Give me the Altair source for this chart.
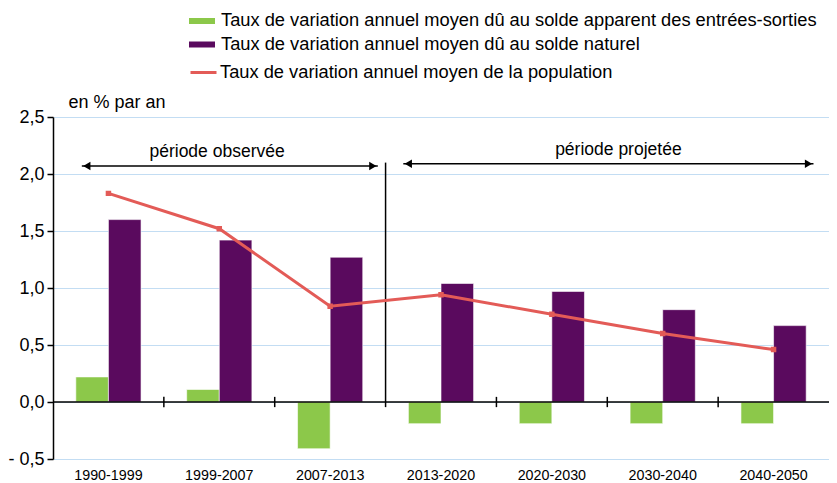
import altair as alt
import pandas as pd

# ---- data ----
periods = ["1990-1999", "1999-2007", "2007-2013", "2013-2020", "2020-2030", "2030-2040", "2040-2050"]
migration = [0.22, 0.11, -0.41, -0.19, -0.19, -0.19, -0.19]
natural = [1.60, 1.42, 1.27, 1.04, 0.97, 0.81, 0.67]
population = [1.83, 1.52, 0.84, 0.94, 0.77, 0.60, 0.46]

bar_series = [
    "Taux de variation annuel moyen dû au solde apparent des entrées-sorties",
    "Taux de variation annuel moyen dû au solde naturel",
]
line_series = "Taux de variation annuel moyen de la population"

y_ticks = [-0.5, 0.0, 0.5, 1.0, 1.5, 2.0, 2.5]

# annotations (in category units: 0..7)
arrow_start = [0.26, 3.16]
arrow_end = [2.93, 6.86]
arrow_y = [2.07, 2.09]
period_text = ["période observée", "période projetée"]
period_text_x = [1.48, 5.10]
period_text_y = [2.15, 2.17]
divider_x = [3]
divider_top = [2.1]
tick_x = [1, 2, 4, 5, 6]

# ---- styles ----
bar_colors = ["#8CC84A", "#5A0A5E"]
line_color = "#E35B57"
grid_color = "#C3DDF3"
FONT = "Liberation Sans"
W, H = 776, 342

bars_df = pd.DataFrame({
    "periode": periods * 2,
    "serie": [bar_series[0]] * len(periods) + [bar_series[1]] * len(periods),
    "valeur": migration + natural,
})
line_df = pd.DataFrame({"periode": periods, "serie": line_series, "valeur": population})
arrows_df = pd.DataFrame({"x1": arrow_start, "x2": arrow_end, "y": arrow_y})
heads_df = pd.DataFrame({
    "x": [arrow_start[0] + 0.045, arrow_end[0] - 0.045, arrow_start[1] + 0.045, arrow_end[1] - 0.045],
    "y": [arrow_y[0], arrow_y[0], arrow_y[1], arrow_y[1]],
    "dir": ["left", "right", "left", "right"],
})
text_df = pd.DataFrame({"x": period_text_x, "y": period_text_y, "t": period_text})
divider_df = pd.DataFrame({"x": divider_x, "y1": [-0.045], "y2": divider_top})
ticks_df = pd.DataFrame({"x": tick_x, "y1": [-0.045] * len(tick_x), "y2": [0.045] * len(tick_x)})
zero_df = pd.DataFrame({"x1": [0], "x2": [7], "y": [0.0]})

y_scale = alt.Scale(domain=[-0.5, 2.5], nice=False, zero=False)
y_axis = alt.Axis(
    values=y_ticks,
    labelExpr="(datum.value < 0 ? '- ' : '') + replace(format(abs(datum.value), '.1f'), '.', ',')",
    title="en % par an", titleAngle=0, titleAlign="left", titleBaseline="alphabetic",
    titleX=15, titleY=-10, titleFontSize=18, titleFontWeight="normal", titleColor="black", titleFont=FONT,
    labelFontSize=18, labelColor="black", labelFont=FONT, labelPadding=3,
    tickColor="black", tickSize=6, tickWidth=1.5,
    domainColor="black", domainWidth=1.5,
    grid=True, gridColor=grid_color, gridWidth=1,
)
x_band = alt.Scale(domain=periods, paddingInner=0, paddingOuter=0)
ux = alt.Scale(domain=[0, 7], nice=False, zero=False)

bars = alt.Chart(bars_df).mark_bar(stroke="#ffffff", strokeWidth=0.6).encode(
    x=alt.X("periode:N", scale=x_band, sort=periods,
            axis=alt.Axis(title=None, domain=False, ticks=False, labelAngle=0, labelFontSize=14.3,
                          labelColor="black", labelFont=FONT, labelPadding=9, grid=False)),
    xOffset=alt.XOffset("serie:N", scale=alt.Scale(domain=bar_series, paddingInner=0, paddingOuter=0.7)),
    y=alt.Y("valeur:Q", scale=y_scale, axis=y_axis),
    fill=alt.Fill("serie:N", scale=alt.Scale(domain=bar_series, range=bar_colors),
                  legend=alt.Legend(title=None, orient="none", legendX=139, legendY=-106,
                                    symbolType="M-1.3,-0.3H1.3V0.3H-1.3Z", symbolSize=400,
                                    symbolStrokeWidth=0, labelFontSize=18.3, labelFont=FONT,
                                    labelColor="black", labelLimit=900, rowPadding=4.5,
                                    labelOffset=9, padding=0, direction="vertical")),
)

zero = alt.Chart(zero_df).mark_rule(color="black", strokeWidth=1.5).encode(
    x=alt.X("x1:Q", scale=ux, axis=None), x2="x2:Q",
    y=alt.Y("y:Q", scale=y_scale, axis=y_axis),
)
ticks = alt.Chart(ticks_df).mark_rule(color="black", strokeWidth=1.5).encode(
    x=alt.X("x:Q", scale=ux, axis=None),
    y=alt.Y("y1:Q", scale=y_scale, axis=y_axis), y2="y2:Q",
)
divider = alt.Chart(divider_df).mark_rule(color="black", strokeWidth=1.5).encode(
    x=alt.X("x:Q", scale=ux, axis=None),
    y=alt.Y("y1:Q", scale=y_scale, axis=y_axis), y2="y2:Q",
)

line = alt.Chart(line_df).mark_line(
    strokeWidth=3,
    point=alt.OverlayMarkDef(filled=True, size=12, shape="square", color=line_color),
).encode(
    x=alt.X("periode:N", scale=x_band, sort=periods, axis=None),
    y=alt.Y("valeur:Q", scale=y_scale, axis=y_axis),
    stroke=alt.Stroke("serie:N", scale=alt.Scale(domain=[line_series], range=[line_color]),
                      legend=alt.Legend(title=None, orient="none", legendX=136, legendY=-59,
                                        symbolType="stroke", symbolSize=676, symbolStrokeWidth=3,
                                        labelFontSize=18.3, labelFont=FONT, labelColor="black",
                                        labelLimit=900, labelOffset=2, padding=0)),
)

arrows = alt.Chart(arrows_df).mark_rule(color="black", strokeWidth=1.5).encode(
    x=alt.X("x1:Q", scale=ux, axis=None), x2="x2:Q",
    y=alt.Y("y:Q", scale=y_scale, axis=y_axis),
)
heads = alt.Chart(heads_df).mark_point(filled=True, color="black", size=70, opacity=1).encode(
    x=alt.X("x:Q", scale=ux, axis=None),
    y=alt.Y("y:Q", scale=y_scale, axis=y_axis),
    shape=alt.Shape("dir:N", scale=alt.Scale(domain=["left", "right"], range=["triangle-left", "triangle-right"]),
                    legend=None),
)
texts = alt.Chart(text_df).mark_text(font=FONT, fontSize=17.5, color="black", align="center",
                                     baseline="alphabetic").encode(
    x=alt.X("x:Q", scale=ux, axis=None),
    y=alt.Y("y:Q", scale=y_scale, axis=y_axis),
    text="t:N",
)

chart = alt.layer(bars, zero, ticks, divider, line, arrows, heads, texts).resolve_scale(
    x="independent"
).properties(
    width=W, height=H,
    padding={"left": 45, "top": 109, "right": 0, "bottom": 24},
    autosize=alt.AutoSizeParams(type="none"),
).configure_view(stroke=None).configure(font=FONT)

chart.save("out.html", embed_options={"renderer": "svg", "actions": False})
